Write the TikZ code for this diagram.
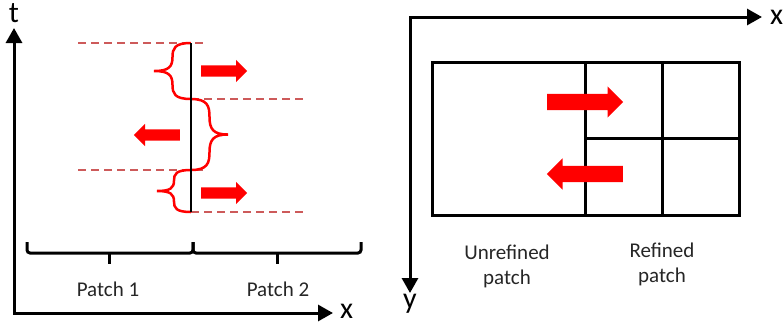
\documentclass[tikz,border=0pt]{standalone}
\usepackage{fontspec}
\setmainfont{Carlito}
\usetikzlibrary{arrows.meta,positioning,shapes.arrows}
\definecolor{dashred}{RGB}{205,90,90}
\tikzset{
axis/.style={line width=3pt, {Triangle[width=16pt,length=15pt]}-{Triangle[width=16pt,length=15pt]}},
axislabel/.style={font=\fontsize{30}{30}\selectfont, inner sep=0pt},
patchlabel/.style={font=\fontsize{21}{25}\selectfont, align=center, text=black!85},
interface/.style={dashred, line width=1.3pt, dash pattern=on 8pt off 5pt},
curly/.style={red, line width=2.5pt},
patchbrace/.style={line width=3pt, rounded corners=3pt},
cell/.style={line width=3pt},
blockarrow/.style={single arrow, fill=red, draw=none, inner xsep=0pt, single arrow tip angle=90, anchor=tail},
smallarrow/.style={blockarrow, inner ysep=5.5pt, single arrow head extend=5.5pt, minimum height=46pt},
bigarrow/.style={blockarrow, inner ysep=8pt, single arrow head extend=7.5pt, minimum height=76pt},
pointleft/.style={shape border rotate=180},
}

\begin{document}
\begin{tikzpicture}[x=1pt, y=-1pt]
    \useasboundingbox (0,0) rectangle (783,325);

    \coordinate (origin) at (14,313);
    \coordinate (tend) at (14,28);
    \coordinate (xend) at (333,313);
    \draw[axis] (tend) -- (origin) -- (xend);
    \node[axislabel, above=5pt of tend] (tlabel) {t};
    \node[axislabel, right=7pt of xend, yshift=2pt] (xlabel) {x};

    \draw[interface] (78,43) -- (203,43);
    \draw[interface] (191,99) -- (303,99);
    \draw[interface] (78,170) -- (203,170);
    \draw[interface] (191,212) -- (303,212);

    \draw[curly] (191,43) .. controls (174.4,43) and (172.5,48.6) .. (172.5,57)
        .. controls (172.5,66.8) and (168.8,71) .. (154,71)
        .. controls (168.8,71) and (172.5,75.2) .. (172.5,85)
        .. controls (172.5,93.4) and (174.4,99) .. (191,99);
    \draw[curly] (191,99) .. controls (207.6,99) and (209.5,106.1) .. (209.5,116.75)
        .. controls (209.5,129.2) and (213.2,134.5) .. (228,134.5)
        .. controls (213.2,134.5) and (209.5,139.8) .. (209.5,152.25)
        .. controls (209.5,162.9) and (207.6,170) .. (191,170);
    \draw[curly] (191,170) .. controls (175.7,170) and (174,174.2) .. (174,180.5)
        .. controls (174,187.9) and (170.6,191) .. (157,191)
        .. controls (170.6,191) and (174,194.1) .. (174,201.5)
        .. controls (174,207.8) and (175.7,212) .. (191,212);
    \draw[line width=2.7pt] (191,43) -- (191,212);

    \node[smallarrow] (out1) at (201,71) {};
    \node[smallarrow, pointleft] (in1) at (180,135) {};
    \node[smallarrow] (out2) at (201,193) {};

    \draw[patchbrace] (27,242) -- (27,253) -- (193,253) -- (193,242);
    \draw[patchbrace] (193,242) -- (193,253) -- (361,253) -- (361,242);
    \draw[line width=3pt] (109,252) -- (109,264);
    \draw[line width=3pt] (277,252) -- (277,264);
    \node[patchlabel, anchor=base] (patch1) at (108,296) {Patch 1};
    \node[patchlabel, anchor=base] (patch2) at (278,296) {Patch 2};

    \coordinate (corner) at (410,17);
    \coordinate (xend2) at (762,17);
    \coordinate (yend) at (410,293);
    \draw[axis] (xend2) -- (corner) -- (yend);
    \node[axislabel, right=8pt of xend2] (xlabel2) {x};
    \node[axislabel, below=1pt of yend] (ylabel) {y};

    \draw[cell] (432,62) rectangle (739,215);
    \draw[cell] (585,62) -- (585,215);
    \draw[cell] (662,62) -- (662,215);
    \draw[cell] (585,138) -- (739,138);

    \node[bigarrow] (fine) at (547,102) {};
    \node[bigarrow, pointleft] (coarse) at (623,174) {};

    \node[patchlabel] (unrefined) at (507,266) {Unrefined\\patch};
    \node[patchlabel] (refined) at (662,264) {Refined\\patch};
\end{tikzpicture}
\end{document}
